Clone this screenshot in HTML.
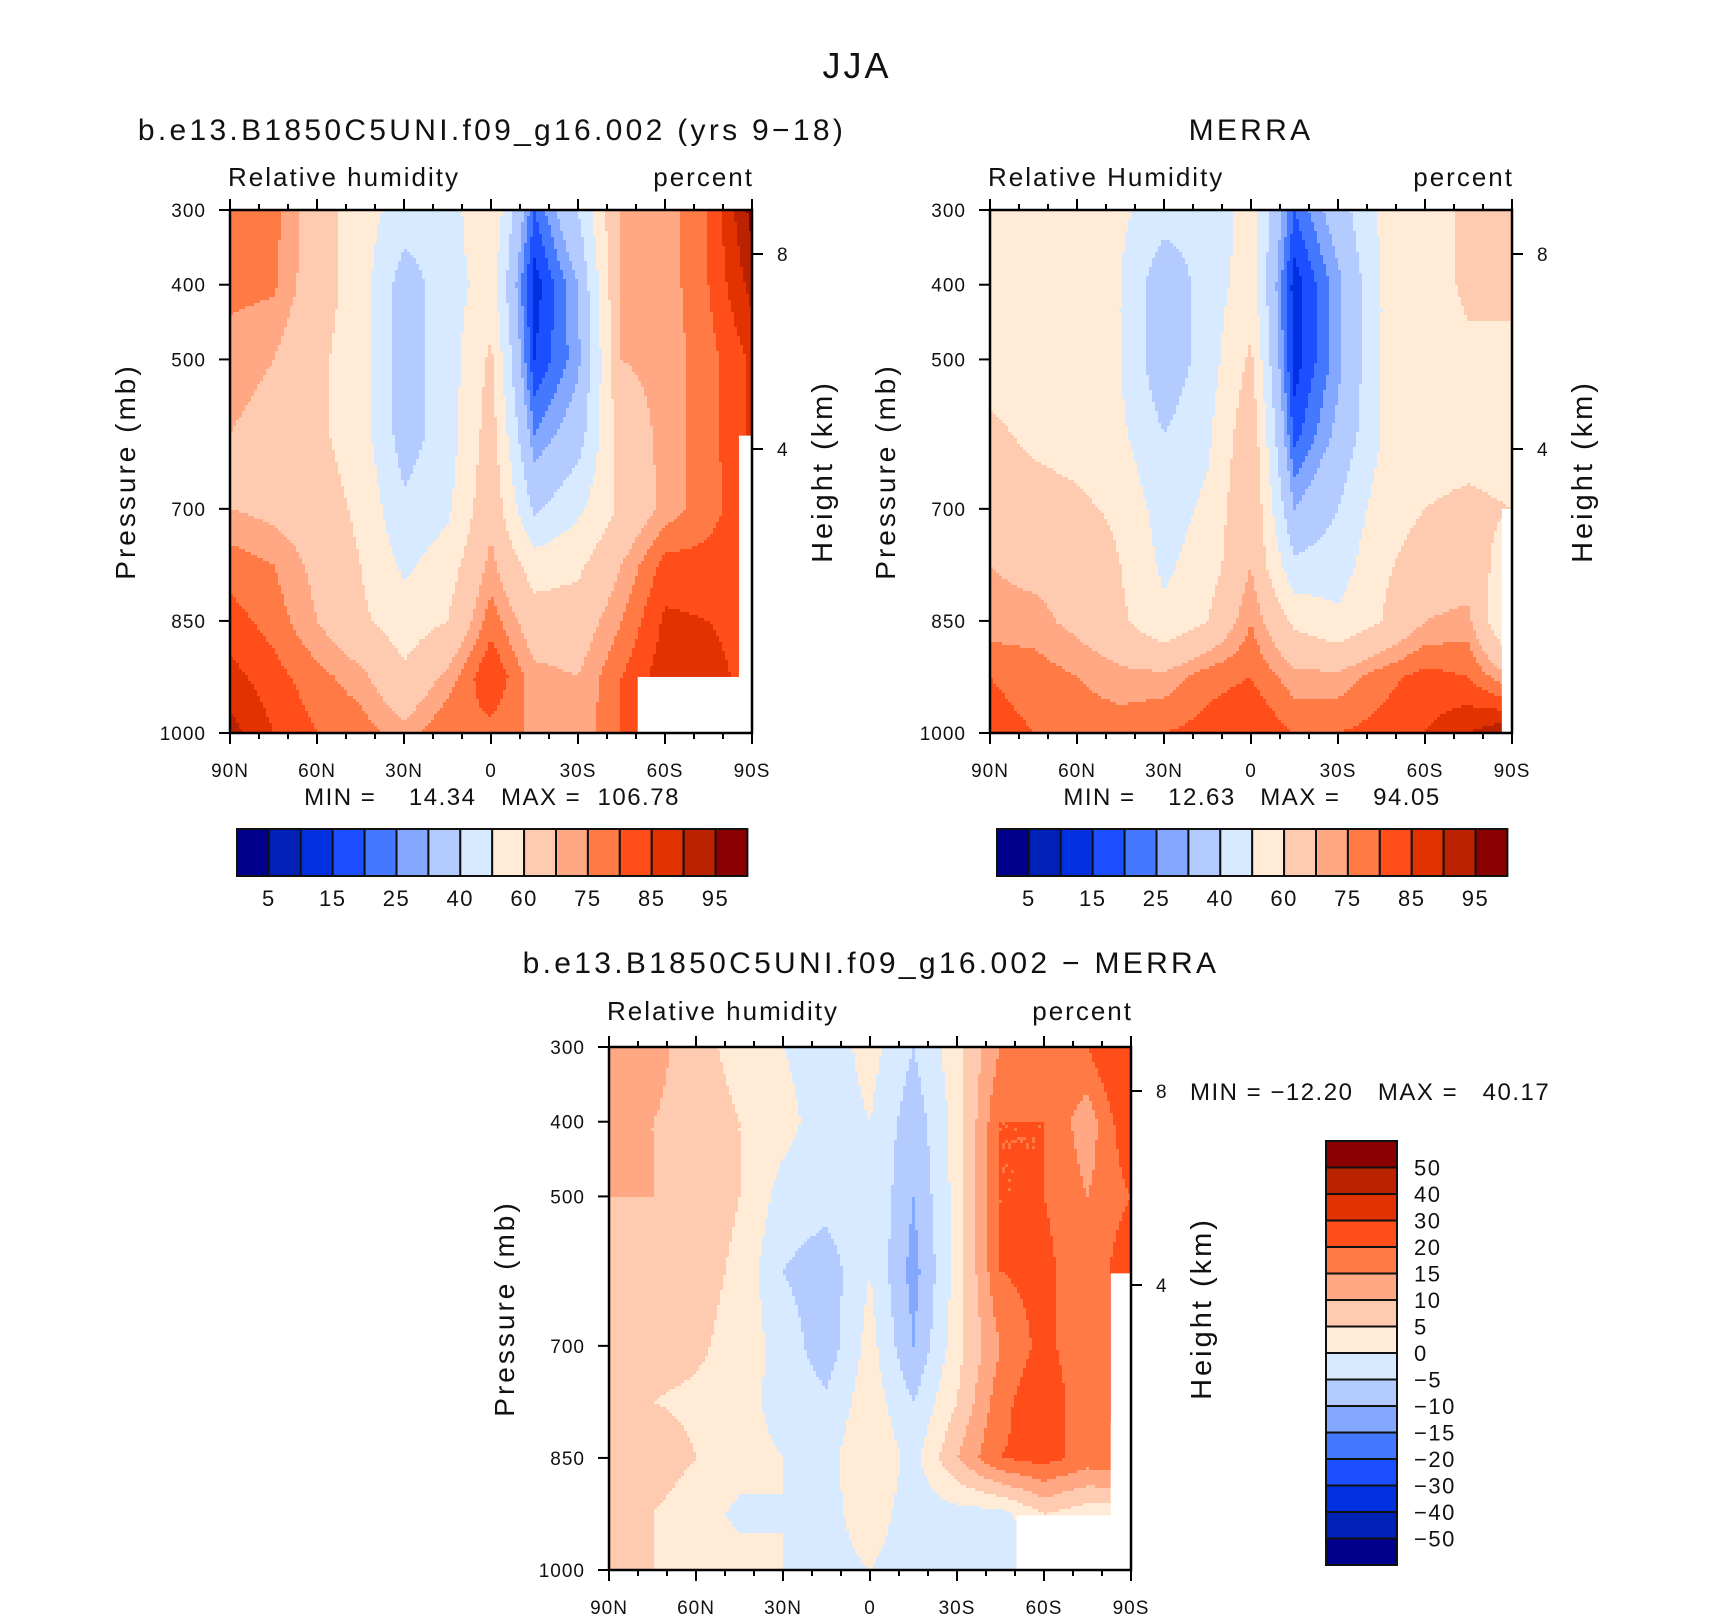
<!DOCTYPE html>
<html><head><meta charset="utf-8">
<style>
html,body{margin:0;padding:0;background:#fff}
svg{display:block;font-family:"Liberation Sans",sans-serif}
svg text{white-space:pre;fill:#111}
</style></head>
<body>
<svg id="fig" width="1710" height="1616" viewBox="0 0 1710 1616" xmlns="http://www.w3.org/2000/svg">
<rect width="1710" height="1616" fill="#fff"/>
<text x="857" y="78" font-size="36" text-anchor="middle" letter-spacing="3">JJA</text>
<g id="p1"></g>
<g id="p2"></g>
<g id="p3"></g>
</svg>
<script>
// ---- data ----
const lats = [90,75,60,45,30,15,0,-15,-30,-45,-60,-75,-90];
const pressures = [300,400,500,600,700,775,850,925,1000];
const absLevels = [5,10,15,20,25,30,40,50,60,70,75,80,85,90,95];
const absLabels = ["5","15","25","40","60","75","85","95"];
const diffLevels = [-50,-40,-30,-20,-15,-10,-5,0,5,10,15,20,30,40,50];
const diffLabels = ["-50","-40","-30","-20","-15","-10","-5","0","5","10","15","20","30","40","50"];
const palette = ["#00008c","#0021b5","#0030e0","#1c4fff","#4479ff","#84a8ff","#b3cbff","#d7eaff","#ffebd6","#ffcbb0","#ffa883","#ff7a45","#ff4e1a","#e23200","#bb2200","#8b0000"];
const modelRH = [
 [77,77,65,55,45,45,60,20,40,72,72,80,97],
 [77,76,65,55,35,45,55,12,30,72,72,80,92],
 [72,70,62,55,35,45,62,15,28,70,72,78,86],
 [70,68,62,55,35,45,65,25,35,65,72,78,86],
 [70,68,65,58,42,48,68,38,48,62,72,78,84],
 [78,75,68,60,48,55,72,55,58,70,82,82,84],
 [82,78,70,62,55,60,78,65,65,75,86,85,84],
 [87,82,77,72,62,72,85,72,70,80,88,86,84],
 [92,85,80,78,72,80,78,74,72,80,88,86,84]];
const merraRH = [
 [60,57,55,52,45,42,55,20,35,52,56,62,62],
 [58,56,55,50,32,45,55,12,28,50,55,62,62],
 [56,55,55,50,32,45,62,12,28,50,55,58,58],
 [62,58,56,52,40,48,68,18,32,50,56,56,55],
 [66,64,62,58,45,52,70,30,40,55,60,62,60],
 [70,68,68,60,48,55,70,42,45,58,65,65,55],
 [72,72,68,62,52,60,75,58,52,60,70,72,45],
 [80,78,75,72,72,78,80,72,72,78,82,80,70],
 [82,80,78,78,80,82,85,80,80,82,85,90,95]];
const diffRH = [
 [15,12,7,3,0,-3,2,-5,3,15,17,20,30],
 [12,10,8,5,2,-3,0,-8,2,20,20,12,25],
 [10,10,8,5,-2,-3,0,-10,2,20,20,15,20],
 [8,8,7,4,-5,-8,0,-12,2,20,22,15,25],
 [7,7,6,3,-2,-8,2,-10,3,15,22,15,25],
 [8,5,4,2,-2,-4,3,-5,5,18,25,15,25],
 [10,8,5,2,0,-2,5,-2,10,20,22,18,20],
 [7,5,2,-1,0,-2,3,-3,-2,-2,5,2,2],
 [5,5,3,2,0,-2,0,-3,-3,-5,0,0,0]];
// missing-data masks: [latFrom, latTo, pTop]
const mask1 = [[-50.6,-90,925],[-85.5,-90,602]];
const mask2 = [[-86.5,-90,700]];
const mask3 = [[-50.5,-90,927],[-83,-90,603]];

const NS="http://www.w3.org/2000/svg";
function el(parent,tag,attrs){const e=document.createElementNS(NS,tag);for(const k in attrs)e.setAttribute(k,attrs[k]);parent.appendChild(e);return e;}
function colorFor(v,levels){let i=0;while(i<levels.length&&v>=levels[i])i++;return palette[i];}
function interp(field,lat,p){
  let fx=(90-lat)/15; let i=Math.max(0,Math.min(Math.floor(fx),lats.length-2)); let tx=fx-i;
  let j=0; while(j<pressures.length-2&&p>pressures[j+1])j++;
  let ty=(p-pressures[j])/(pressures[j+1]-pressures[j]);
  const a=field[j][i],b=field[j][i+1],c=field[j+1][i],d=field[j+1][i+1];
  return a*(1-tx)*(1-ty)+b*tx*(1-ty)+c*(1-tx)*ty+d*tx*ty;
}
function txt(g,x,y,s,size,anchor,name,extra){const t=el(g,'text',Object.assign({x:x,y:y,'font-size':size,'text-anchor':anchor||'start'},extra||{}));t.textContent=s;


return t;}

function panel(g,cfg){
  const L=cfg.x,T=cfg.y,W=522,H=523;
  const xs=lat=>L+(90-lat)/180*W;
  const ys=p=>T+(p-300)/700*H;
  const cell=3;
  const field=el(g,'g',{});
  
  
  for(let py=0;py<H;py+=cell){
    const p=300+(py+cell/2)/H*700;
    let runStart=0,runColor=null;
    const flush=(end)=>{const r=el(field,'rect',{x:L+runStart,y:T+py,width:end-runStart+0.6,height:Math.min(cell,H-py)+0.6,fill:runColor});
          
          };
    for(let px=0;px<W;px+=cell){
      const lat=90-Math.min(px+cell/2,W)/W*180;
      const c=colorFor(interp(cfg.data,lat,p),cfg.levels);
      if(c!==runColor){
        if(runColor!==null)flush(px);
        runStart=px;runColor=c;
      }
    }
    if(runColor!==null)flush(W);
  }
  cfg.mask.forEach(m=>{const r=el(g,'rect',{x:xs(m[0]),y:ys(m[2]),width:xs(m[1])-xs(m[0])+1,height:ys(1000)-ys(m[2]),fill:'#fff'});
    
    });
  const fr=el(g,'rect',{x:L,y:T,width:W,height:H,fill:'none',stroke:'#000','stroke-width':2.5});
  
  
  for(let lat=90;lat>=-90;lat-=10){
    const x=xs(lat),major=(lat%30===0),len=major?11:6;
    el(g,'line',{x1:x,y1:T,x2:x,y2:T-len,stroke:'#000','stroke-width':2});
    el(g,'line',{x1:x,y1:T+H,x2:x,y2:T+H+len,stroke:'#000','stroke-width':2});
    if(major){const lab=lat===0?'0':(Math.abs(lat)+(lat>0?'N':'S'));
      txt(g,x,T+H+44,lab,19,'middle','x-tick-label',{'letter-spacing':1});}
  }
  [300,400,500,700,850,1000].forEach(p=>{
    el(g,'line',{x1:L,y1:ys(p),x2:L-11,y2:ys(p),stroke:'#000','stroke-width':2});
    txt(g,L-24,ys(p)+7,String(p),19,'end','y-tick-label',{'letter-spacing':1});
  });
  [[8,cfg.h8],[4,cfg.h4]].forEach(h=>{
    el(g,'line',{x1:L+W,y1:h[1],x2:L+W+11,y2:h[1],stroke:'#000','stroke-width':2});
    txt(g,L+W+25,h[1]+7,String(h[0]),19,'start','height-tick-label');
  });
  txt(g,cfg.titleX,cfg.titleY,cfg.title,30,'middle','panel-title',{'letter-spacing':3.3});
  txt(g,L-2,T-cfg.labOff,cfg.left,26,'start','variable-label',{'letter-spacing':2});
  txt(g,L+W+2,T-cfg.labOff,'percent',26,'end','units-label',{'letter-spacing':2});
  txt(g,0,0,'Pressure (mb)',28,'middle','y-axis-title',{'letter-spacing':3,transform:`translate(${L-95},${T+H/2}) rotate(-90)`});
  txt(g,0,0,'Height (km)',29,'middle','height-axis-title',{'letter-spacing':3,transform:`translate(${L+W+80},${T+H/2}) rotate(-90)`});
}

function hbar(g,x,y,labels){
  const bw=31.9,bh=47;
  palette.forEach((c,i)=>{const r=el(g,'rect',{x:x+i*bw,y:y,width:bw,height:bh,fill:c,stroke:'#111','stroke-width':2});
    
    });
  labels.forEach((s,k)=>txt(g,x+(2*k+1)*bw,y+bh+30,s,22,'middle','colorbar-label',{'letter-spacing':1.5}));
}
function vbar(g,x,y,levels){
  const bw=71,bh=26.5;
  for(let i=0;i<palette.length;i++){
    const r=el(g,'rect',{x:x,y:y+i*bh,width:bw,height:bh,fill:palette[palette.length-1-i],stroke:'#111','stroke-width':2});
    
    
  }
  for(let k=0;k<levels.length;k++){
    const s=levels[levels.length-1-k].replace('-','\u2212');
    txt(g,x+bw+17,y+(k+1)*bh+8,s,22,'start','colorbar-label',{'letter-spacing':1.5});
  }
}

const g1=document.getElementById('p1'),g2=document.getElementById('p2'),g3=document.getElementById('p3');
panel(g1,{x:230,y:210,data:modelRH,levels:absLevels,mask:mask1,h8:254,h4:449,labOff:24,title:'b.e13.B1850C5UNI.f09_g16.002 (yrs 9\u221218)',titleX:492,titleY:140,left:'Relative humidity'});
txt(g1,492,805,'MIN =    14.34   MAX =  106.78',24,'middle','min-max-label',{'letter-spacing':1.5});
hbar(g1,237,829,absLabels);
panel(g2,{x:990,y:210,data:merraRH,levels:absLevels,mask:mask2,h8:254,h4:449,labOff:24,title:'MERRA',titleX:1251,titleY:140,left:'Relative Humidity'});
txt(g2,1252,805,'MIN =    12.63   MAX =    94.05',24,'middle','min-max-label',{'letter-spacing':1.5});
hbar(g2,997,829,absLabels);
panel(g3,{x:609,y:1047,data:diffRH,levels:diffLevels,mask:mask3,h8:1091,h4:1285,labOff:27,title:'b.e13.B1850C5UNI.f09_g16.002 \u2212 MERRA',titleX:871,titleY:973,left:'Relative humidity'});
txt(g3,1190,1100,'MIN = \u221212.20   MAX =   40.17',24,'start','min-max-label',{'letter-spacing':1.5});
vbar(g3,1326,1141,diffLabels);
</script>
</body></html>
